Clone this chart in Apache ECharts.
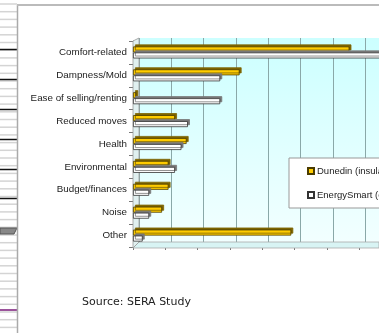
<!DOCTYPE html>
<html><head><meta charset="utf-8">
<script src="https://cdn.jsdelivr.net/npm/echarts@6/dist/echarts.min.js"></script>
<style>html,body{margin:0;padding:0;background:#fff;}#c{width:379px;height:333px;}</style>
</head><body><div id="c"></div>
<script>
const categories = ['Comfort-related','Dampness/Mold','Ease of selling/renting','Reduced moves','Health','Environmental','Budget/finances','Noise','Other'];
const dunedin = [33.5, 16.5, 0.5, 6.5, 8.3, 5.5, 5.5, 4.5, 24.5];
const energySmart = [40, 13.5, 13.5, 8.5, 7.5, 6.5, 2.5, 2.5, 1.5];
const seriesNames = ['Dunedin (insulated)', 'EnergySmart (control)'];

const chart = echarts.init(document.getElementById('c'), null, {renderer:'canvas'});

const g = [];
for (let y = 4; y < 333; y += 7.7) {
  g.push({type:'line', shape:{x1:0,y1:y,x2:17,y2:y}, style:{stroke:'#d4d4d4', lineWidth:1.5}, silent:true});
}
[49,79,109,139,169,198].forEach((y)=>{
  g.push({type:'line', shape:{x1:0,y1:y+0.5,x2:17,y2:y+0.5}, style:{stroke:'#111', lineWidth:1.5}, silent:true});
});
g.push({type:'polygon', shape:{points:[[0,228],[17,228],[14,234],[0,234]]}, style:{fill:'#888', stroke:'#555'}, silent:true});
g.push({type:'line', shape:{x1:0,y1:310,x2:17,y2:310}, style:{stroke:'#7a1a7a', lineWidth:1.5}, silent:true});
g.push({type:'line', shape:{x1:17.5,y1:5,x2:17.5,y2:333}, style:{stroke:'#aaa', lineWidth:1.5}, silent:true});
g.push({type:'line', shape:{x1:17,y1:5,x2:379,y2:5}, style:{stroke:'#bbb', lineWidth:2}, silent:true});
g.push({type:'polygon', shape:{points:[[133,248],[139,242],[379,242],[379,248]]}, style:{fill:'#d8f4f4', stroke:'#aaa', lineWidth:0.8}, silent:true, z:1});
g.push({type:'polygon', shape:{points:[[133,41],[139,38],[139,242],[133,248]]}, style:{fill:'#e0f0f0', stroke:'#999', lineWidth:0.8}, silent:true, z:1});
g.push({type:'text', left:82, top:297, style:{text:'Source: SERA Study', font:'11px "DejaVu Sans"', fill:'#222'}, silent:true});

chart.setOption({
  animation:false,
  graphic: g,
  grid: [
    {left:139, top:38, width:323, height:204, outerBoundsMode:'none', containLabel:false, show:true, borderWidth:0,
     backgroundColor:{type:'linear',x:0,y:0,x2:0,y2:1,colorStops:[{offset:0,color:'#ccffff'},{offset:1,color:'#f2ffff'}]}},
    {left:133, top:41, width:323, height:206, outerBoundsMode:'none', containLabel:false}
  ],
  xAxis: [
    {gridIndex:0, type:'value', min:0, max:50, interval:5, axisLine:{show:false}, axisTick:{show:false}, axisLabel:{show:false},
     splitLine:{show:true, lineStyle:{color:'#8aa8a8', width:1}}},
    {gridIndex:1, type:'value', min:0, max:50, interval:5, axisLine:{show:true, lineStyle:{color:'#888'}},
     axisTick:{show:true, length:3, lineStyle:{color:'#777'}}, axisLabel:{show:false}, splitLine:{show:false}}
  ],
  yAxis: [
    {gridIndex:0, type:'category', data:categories, show:false},
    {gridIndex:1, type:'category', data:categories, inverse:true,
     axisLine:{show:true, lineStyle:{color:'#777'}}, axisTick:{show:true, length:4, lineStyle:{color:'#777'}},
     axisLabel:{fontFamily:'Liberation Sans, Arial', fontSize:9.8, color:'#222', margin:6}}
  ],
  legend: {
    orient:'vertical', left:289, top:158, padding:[8,10,8,18], itemGap:14, itemWidth:6, itemHeight:6,
    backgroundColor:'#fff', borderColor:'#999', borderWidth:1,
    textStyle:{fontFamily:'Liberation Sans, Arial', fontSize:9.5, color:'#222', padding:[0,0,0,-2]},
    data: seriesNames.map(n=>({name:n, icon:'rect'}))
  },
  series: [
    {name:seriesNames[0], type:'bar', xAxisIndex:1, yAxisIndex:1, data:dunedin, barWidth:6, barGap:'0%',
     itemStyle:{color:'#FFCC00', borderColor:'#4a3c00', borderWidth:0.8, shadowColor:'#7d6400', shadowOffsetX:2, shadowOffsetY:-2, shadowBlur:0}, z:3},
    {name:seriesNames[1], type:'bar', xAxisIndex:1, yAxisIndex:1, data:energySmart, barWidth:6, barGap:'0%',
     itemStyle:{color:'#ffffff', borderColor:'#333', borderWidth:0.8, shadowColor:'#777', shadowOffsetX:2, shadowOffsetY:-2, shadowBlur:0}, z:3}
  ]
});
</script></body></html>
